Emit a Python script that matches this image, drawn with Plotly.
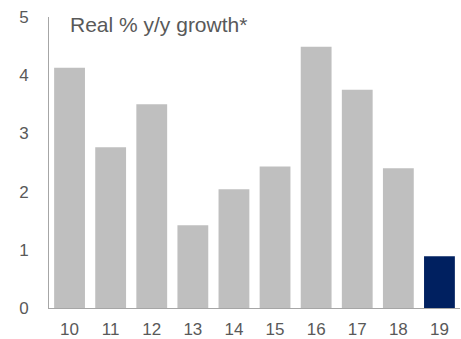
import plotly.graph_objects as go

years = ["10", "11", "12", "13", "14", "15", "16", "17", "18", "19"]
growth = [4.13, 2.76, 3.50, 1.42, 2.04, 2.43, 4.49, 3.75, 2.40, 0.89]
bar_colors = ["#bfbfbf"] * 9 + ["#002060"]
title_text = "Real % y/y growth*"

fig = go.Figure(go.Bar(x=years, y=growth, marker=dict(color=bar_colors, line=dict(width=0)), width=0.75))

fig.update_layout(
    width=461, height=339,
    margin=dict(l=49, r=1, t=17, b=31),
    plot_bgcolor="white", paper_bgcolor="white",
    showlegend=False,
    font=dict(family="Liberation Sans, Arial", size=17, color="#595959"),
    bargap=0.25,
)
fig.update_xaxes(
    type="category", showline=True, linecolor="#a6a6a6", linewidth=1, automargin=False,
    ticks="", showgrid=False, ticklabelstandoff=6, tickfont=dict(size=17, color="#595959"),
)
fig.update_yaxes(
    range=[0, 5], dtick=1, showline=True, linecolor="#a6a6a6", linewidth=1, automargin=False,
    ticks="", showgrid=False, zeroline=False, ticklabelstandoff=16,
    tickfont=dict(size=17, color="#595959"),
)
fig.add_annotation(
    text=title_text, xref="paper", yref="paper", x=(68 - 49) / 411, y=(308 - 24) / 291,
    xanchor="left", yanchor="middle", showarrow=False,
    font=dict(size=21, color="#595959", family="Liberation Sans, Arial"),
)
fig.write_html("out.html", config={"displayModeBar": False})

with open("out.html", "r", encoding="utf-8") as f:
    html = f.read()
html = html.replace("<head>", "<head><style>html,body{margin:0;padding:0;overflow:hidden;}</style>", 1)
with open("out.html", "w", encoding="utf-8") as f:
    f.write(html)
